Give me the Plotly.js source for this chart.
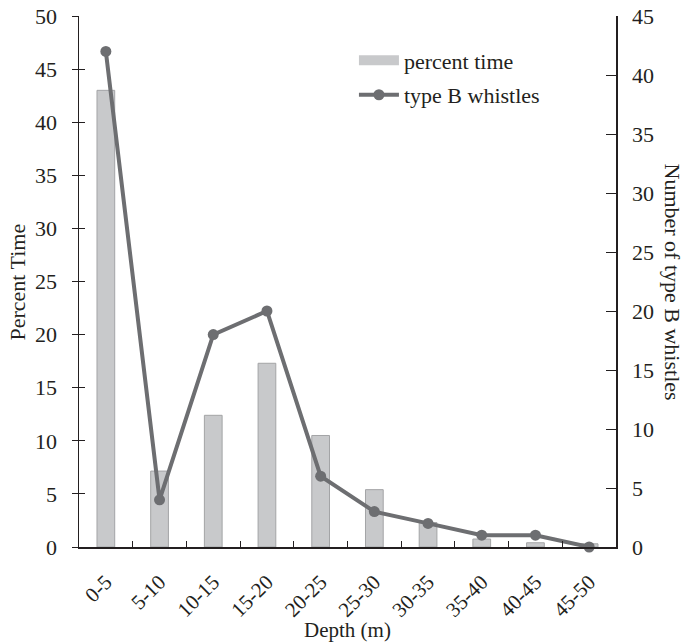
<!DOCTYPE html>
<html>
<head>
<meta charset="utf-8">
<script src="https://cdn.plot.ly/plotly-3.0.1.min.js"></script>
<style>html,body{margin:0;padding:0;background:#fff;}#chart{width:686px;height:643px;}</style>
</head>
<body>
<div id="chart"></div>
<script>
const depthBins = ["0-5","5-10","10-15","15-20","20-25","25-30","30-35","35-40","40-45","45-50"];
const percentTime = [43.0, 7.15, 12.4, 17.3, 10.5, 5.4, 2.3, 0.75, 0.4, 0.3];
const typeBWhistles = [42, 4, 18, 20, 6, 3, 2, 1, 1, 0];

const font = {family: "Liberation Serif, Times New Roman, serif", color: "#231f20"};
const f = s => Object.assign({size: s}, font);

const traces = [
  {
    type: "bar", name: "percent time", x: depthBins, y: percentTime,
    marker: {color: "#c8c9cb", line: {color: "#a3a4a6", width: 1}},
    width: 0.33, yaxis: "y", showlegend: false
  },
  {
    type: "scatter", mode: "lines+markers", name: "type B whistles",
    x: depthBins, y: typeBWhistles, yaxis: "y2", cliponaxis: false,
    line: {color: "#6d6e71", width: 4},
    marker: {color: "#6d6e71", size: 11},
    legendgroup: "b", legendrank: 2
  },
  {
    type: "scatter", mode: "lines", name: "percent time",
    x: [null], y: [null], yaxis: "y3",
    line: {color: "#c8c9cb", width: 11},
    legendgroup: "a", legendrank: 1, hoverinfo: "skip"
  }
];

const layout = {
  width: 686, height: 643,
  margin: {l: 79, r: 70, t: 16, b: 96},
  paper_bgcolor: "#fff", plot_bgcolor: "#fff",
  font: f(21),
  showlegend: true,
  legend: {
    x: 0.512, y: 0.956, xanchor: "left", yanchor: "top",
    font: f(22), traceorder: "grouped",
    bgcolor: "rgba(0,0,0,0)", tracegroupgap: 3, itemwidth: 40
  },
  xaxis: {
    type: "category", range: [-0.5, 9.5], automargin: false,
    showgrid: false, zeroline: false,
    showline: true, linecolor: "#231f20", linewidth: 1.5,
    ticks: "inside", tickson: "boundaries", ticklen: 6, tickcolor: "#231f20",
    tickangle: -45, tickfont: f(21), ticklabelstandoff: 13
  },
  yaxis: {
    range: [0, 50], dtick: 5, automargin: false, showgrid: false, zeroline: false,
    showline: true, linecolor: "#231f20", linewidth: 1.5,
    ticks: "outside", ticklen: 6, tickcolor: "#231f20",
    tickfont: f(22), ticklabelstandoff: 10
  },
  yaxis2: {
    range: [0, 45], dtick: 5, overlaying: "y", side: "right", automargin: false,
    showgrid: false, zeroline: false,
    showline: true, linecolor: "#231f20", linewidth: 1.5,
    ticks: "inside", ticklen: 10, tickcolor: "#231f20",
    tickfont: f(22), ticklabelstandoff: 10
  },
  yaxis3: {
    range: [0, 50], dtick: 5, overlaying: "y", side: "left", automargin: false,
    showgrid: false, zeroline: false, showline: false,
    ticks: "inside", ticklen: 6, tickcolor: "#231f20",
    showticklabels: false
  },
  annotations: [
    {
      text: "Number of type B whistles", xref: "paper", yref: "paper",
      x: 1.1043, y: 0.5, xanchor: "center", yanchor: "middle",
      textangle: 90, showarrow: false, font: f(22)
    },
    {
      text: "Percent Time", xref: "paper", yref: "paper",
      x: -0.1136, y: 0.5, xanchor: "center", yanchor: "middle",
      textangle: -90, showarrow: false, font: f(22)
    },
    {
      text: "Depth (m)", xref: "paper", yref: "paper",
      x: 0.5, y: -0.156, xanchor: "center", yanchor: "middle",
      showarrow: false, font: f(21)
    }
  ]
};

Plotly.newPlot("chart", traces, layout, {displayModeBar: false, staticPlot: true});
</script>
</body>
</html>
